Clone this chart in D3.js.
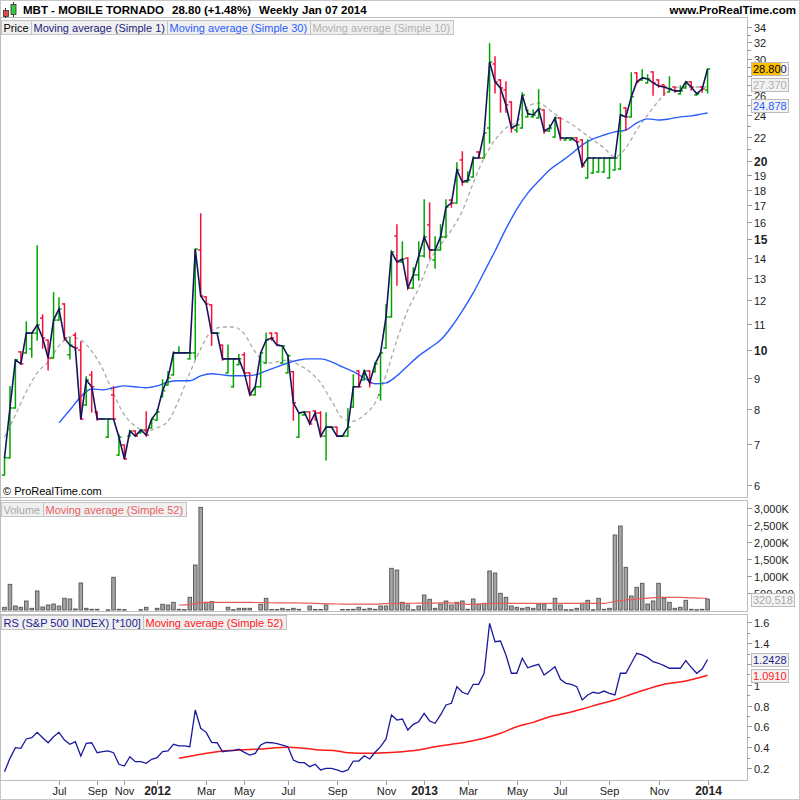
<!DOCTYPE html>
<html><head><meta charset="utf-8">
<script src="https://cdn.jsdelivr.net/npm/d3@7"></script>
<style>body{margin:0;background:#fff}svg{display:block;font-family:"Liberation Sans",Arial,sans-serif}</style>
</head><body><svg id="c" width="800" height="800"></svg>
<script>
// ---------- DATA (weekly bars, index 0..129) ----------
const opens = [
6.23,6.65,8.03,9.93,9.89,10.04,10.64,11.24,10.37,9.70,
11.16,11.84,9.82,10.56,10.00,8.12,9.10,7.91,7.70,7.19,
8.44,6.72,6.98,7.22,7.36,7.31,7.39,7.45,7.67,8.38,
8.76,9.10,9.89,9.89,9.67,9.89,14.43,12.15,11.80,10.64,
10.18,9.17,8.70,9.46,9.82,9.17,8.44,8.70,9.52,10.64,
10.64,9.52,9.17,9.21,7.19,7.82,7.91,7.94,7.88,7.22,
7.47,7.47,7.22,7.22,8.06,9.24,8.93,9.24,9.21,8.44,
10.07,11.29,15.19,13.81,14.01,12.55,13.17,14.12,15.82,13.91,
14.43,15.14,17.33,17.14,20.08,18.52,18.86,20.73,20.24,22.79,
29.37,27.57,26.50,25.27,22.61,22.79,23.82,23.82,23.72,24.48,
22.52,21.99,23.72,21.74,21.74,21.91,21.74,18.79,19.14,19.21,
19.21,18.79,19.35,19.42,24.68,23.82,28.35,27.57,27.25,28.46,
27.57,27.04,26.29,26.81,26.09,26.71,27.36,25.98,26.81,26.50];
const highs = [
6.65,8.70,9.63,9.93,11.08,10.64,14.65,11.37,10.37,12.33,
12.10,11.84,10.45,10.64,10.30,9.03,9.21,7.91,7.70,7.70,
8.70,7.25,6.98,7.36,7.36,7.39,7.91,7.70,7.97,8.93,
9.21,9.93,10.11,9.89,9.89,14.48,16.47,12.15,11.80,10.64,
10.18,10.18,9.67,9.82,9.89,9.17,8.70,9.89,10.64,10.64,
10.64,10.15,9.82,9.21,7.88,7.91,7.91,7.94,7.91,7.88,
7.47,7.47,7.22,8.00,9.10,9.24,9.24,9.24,9.53,9.89,
11.80,14.33,15.82,14.86,14.01,13.51,14.86,17.33,17.14,15.14,
15.82,17.33,17.33,19.86,20.73,19.21,20.32,20.73,22.35,31.80,
30.20,27.57,27.36,25.27,23.07,26.19,24.48,24.48,26.50,24.48,
23.07,23.72,23.72,21.91,21.91,21.91,21.74,21.74,20.24,20.24,
20.24,20.24,20.24,25.07,24.68,28.35,28.35,28.68,28.12,28.46,
27.57,27.04,27.90,26.81,26.91,27.36,27.36,26.19,26.81,28.80];
const lows = [
6.23,6.65,8.03,9.49,9.89,9.74,10.37,10.07,9.28,9.70,
11.16,10.37,9.67,10.00,7.70,8.12,7.91,7.67,7.70,7.19,
7.70,6.72,6.62,7.22,7.22,7.31,7.22,7.45,7.67,8.38,
8.76,9.10,9.89,9.89,9.67,9.67,12.19,11.84,10.18,10.64,
9.63,9.17,8.70,9.46,9.17,8.44,8.44,8.70,9.52,10.37,
10.18,9.52,9.17,7.67,7.19,7.82,7.56,7.67,7.22,6.60,
7.47,7.22,7.22,7.22,8.06,8.70,8.93,8.70,9.21,8.28,
10.07,11.29,12.69,13.81,12.55,12.55,12.93,14.07,14.01,13.51,
14.43,15.14,16.89,17.14,18.31,18.52,18.86,20.24,20.24,21.49,
26.19,24.29,24.29,22.44,22.44,22.79,23.82,23.82,23.72,22.35,
22.52,21.99,21.74,21.74,21.74,21.57,19.57,18.79,19.14,19.21,
19.21,18.79,19.35,19.42,22.61,23.82,27.25,27.57,27.25,25.98,
26.81,25.98,26.29,26.29,26.09,26.71,26.50,25.98,26.29,26.19];
const closes = [
6.65,8.03,9.63,9.49,10.64,10.64,10.96,10.45,9.70,11.16,
11.62,10.45,10.18,10.07,7.70,8.93,8.70,7.70,7.70,7.70,
7.70,7.19,6.62,7.36,7.22,7.39,7.25,7.70,7.91,8.57,
9.00,9.89,9.89,9.89,9.89,14.48,12.19,11.84,10.64,10.64,
9.67,9.67,9.67,9.67,9.17,8.44,8.70,9.89,10.37,10.45,
10.18,10.15,9.78,8.19,7.88,7.91,7.56,7.88,7.22,7.47,
7.47,7.22,7.22,7.47,8.70,8.70,9.24,8.83,9.49,9.89,
11.29,14.33,13.81,13.96,12.55,13.17,14.12,15.14,14.43,14.43,
15.14,16.89,17.14,19.35,18.52,18.65,20.24,20.24,22.35,29.60,
27.36,26.71,24.97,22.79,23.07,25.98,24.10,24.00,24.58,22.52,
22.79,23.72,21.91,21.91,21.91,21.57,19.64,20.24,20.24,20.24,
20.24,20.24,20.24,24.00,23.82,25.78,27.36,27.79,27.68,27.25,
26.91,26.81,26.60,26.40,26.40,27.36,26.81,26.09,26.60,28.80];
// volume in thousands of shares
const volumes = [
80,755,118,80,265,50,560,88,147,176,
118,344,324,30,794,50,20,20,0,5,
962,20,10,0,0,10,80,0,50,168,
147,226,20,10,374,1324,3020,226,244,0,
0,80,10,50,50,50,0,168,344,15,
15,50,15,50,20,0,118,15,15,147,
0,0,15,15,20,80,20,50,20,118,
118,1226,1176,226,147,10,118,441,315,50,
176,265,147,226,265,20,324,176,197,1147,
1088,491,374,118,80,50,80,50,176,176,
20,344,147,10,10,50,197,285,10,344,
20,50,2206,2470,1256,412,668,785,176,265,
785,344,226,50,80,285,20,10,20,320.518];
// relative strength vs S&P 500 (*100)
const rs = [
0.163,0.292,0.394,0.388,0.478,0.490,0.542,0.490,0.442,0.500,
0.542,0.468,0.427,0.452,0.314,0.437,0.442,0.346,0.356,0.363,
0.346,0.235,0.218,0.308,0.260,0.260,0.244,0.283,0.298,0.356,
0.363,0.427,0.411,0.411,0.404,0.757,0.581,0.542,0.446,0.442,
0.356,0.363,0.367,0.379,0.350,0.324,0.340,0.420,0.446,0.442,
0.433,0.420,0.404,0.276,0.250,0.250,0.212,0.235,0.180,0.196,
0.196,0.180,0.163,0.180,0.266,0.266,0.317,0.286,0.350,0.404,
0.478,0.709,0.660,0.670,0.564,0.619,0.644,0.725,0.651,0.629,
0.709,0.805,0.821,0.981,0.927,0.908,1.004,1.004,1.110,1.590,
1.413,1.420,1.286,1.110,1.110,1.254,1.163,1.180,1.196,1.093,
1.132,1.173,1.052,1.013,1.004,0.981,0.853,0.901,0.927,0.917,
0.939,0.917,0.901,1.110,1.110,1.206,1.302,1.286,1.260,1.221,
1.206,1.183,1.158,1.158,1.158,1.231,1.167,1.110,1.151,1.2428];
// moving averages: [bar index, value]
const ma30 = [[10,7.59],[12,7.97],[14,8.38],[16,8.63],[18,8.60],[20,8.67],[22,8.73],[24,8.70],[26,8.67],[28,8.73],[30,8.86],[32,8.90],[34,8.90],[36,9.07],[38,9.14],[40,9.10],[42,9.07],[44,9.07],[46,9.10],[48,9.24],[50,9.38],[52,9.52],[54,9.63],[56,9.67],[58,9.67],[60,9.56],[62,9.38],[64,9.21],[66,9.00],[68,8.80],[70,8.83],[72,9.07],[74,9.42],[76,9.78],[78,10.07],[80,10.37],[82,10.88],[84,11.54],[86,12.33],[88,13.31],[90,14.38],[92,15.59],[94,16.77],[96,17.78],[98,18.58],[100,19.35],[102,19.93],[104,20.56],[106,21.32],[108,21.83],[110,22.17],[112,22.44],[114,22.61],[116,23.25],[118,23.63],[120,23.53],[122,23.63],[124,23.82],[126,23.91],[128,24.10],[129,24.19]];
const ma10 = [[0,7.19],[2,7.82],[4,8.54],[6,9.17],[8,9.56],[10,10.15],[12,10.49],[14,10.37],[16,9.96],[18,9.31],[20,8.47],[22,7.82],[24,7.50],[26,7.36],[28,7.45],[30,7.64],[32,8.28],[34,9.17],[36,10.04],[38,10.72],[40,10.88],[42,10.88],[44,10.60],[46,9.93],[48,9.52],[50,9.56],[52,9.63],[54,9.45],[56,9.21],[58,8.83],[60,8.25],[62,7.73],[64,7.64],[66,7.82],[68,8.19],[70,9.10],[72,10.37],[74,11.58],[76,12.55],[78,13.86],[80,14.70],[82,15.53],[84,16.65],[86,18.45],[88,20.24],[90,21.74],[92,22.79],[94,23.35],[96,24.78],[98,25.17],[100,24.48],[102,23.72],[104,23.16],[106,22.44],[108,21.74],[110,21.06],[112,20.32],[114,21.06],[116,22.61],[118,24.00],[120,25.37],[122,26.50],[124,26.81],[126,26.81],[128,26.81],[129,26.81]];
const volMa52 = [[32,147],[34,160],[36,215],[38,226],[40,226],[42,226],[44,226],[46,220],[48,215],[50,210],[52,210],[54,206],[56,200],[58,190],[60,180],[62,175],[64,170],[66,170],[68,175],[70,190],[72,197],[74,197],[76,200],[78,200],[80,210],[82,212],[84,180],[86,165],[88,185],[90,195],[92,197],[94,197],[96,197],[98,197],[100,197],[102,197],[104,197],[106,197],[108,197],[110,197],[112,250],[114,300],[116,320],[118,350],[120,374],[122,374],[124,370],[126,355],[128,345],[129,344]];
const rsMa52 = [[32,0.292],[36,0.331],[40,0.363],[43,0.372],[47,0.382],[52,0.398],[54,0.394],[58,0.372],[61,0.363],[63,0.346],[67,0.340],[70,0.346],[73,0.356],[76,0.372],[79,0.404],[82,0.427],[85,0.452],[88,0.485],[91,0.533],[94,0.596],[97,0.638],[100,0.692],[103,0.725],[106,0.766],[109,0.812],[112,0.853],[115,0.908],[118,0.959],[121,1.004],[125,1.036],[129,1.091]];
// axis ticks and labels
const monthTickBars = [10,17,22,28,37,44,52,61,70,77,85,94,102,111,120,129];
const monthTickLabels = ["Jul","Sep","Nov","2012","Mar","May","Jul","Sep","Nov","2013","Mar","May","Jul","Sep","Nov","2014"];
const priceTicks = [6,7,8,9,10,11,12,13,14,15,16,17,18,19,20,22,24,26,28,30,32,34];
const priceBoldTicks = [10,15,20];
const priceHiddenLabels = [28];      // covered by the last-value boxes in the original
const priceMinorTicks = [21,23,25,27,29,31,33];
const volTicks = [500,1000,1500,2000,2500,3000];
const volTickLabels = ["500,000","1,000K","1,500K","2,000K","2,500K","3,000K"];
const rsTicks = [0.2,0.4,0.6,0.8,1,1.2,1.4,1.6];
const rsHiddenLabels = [1.2];        // covered by the last-value boxes in the original
const rsMinorTicks = [0.3,0.5,0.7,0.9,1.1,1.3,1.5];
const lastLabels = {price:"28.80", ma1:"28.800", ma10:"27.370", ma30:"24.878", ma10v:27.37, ma30v:24.878, vol:"320,518", rs:"1.2428", rsMa:"1.0910", rsMaV:1.091};

// ---------- CHART ----------
const svg = d3.select("#c");
const PR = 747; // right edge of plot panels
const x = d3.scaleLinear().domain([0,129]).range([4.5,707.6]);
const yP = d3.scaleLog().domain([6,10,20,34]).range([485,350,161,27]);
const yV = d3.scaleLinear().domain([0,3000]).range([610,508]);
const yR = d3.scaleLinear().domain([0.2,1.6]).range([767.9,622.3]);
const GREEN="#00a400", RED="#f5103c";

svg.append("rect").attr("x",0.5).attr("y",0.5).attr("width",799).attr("height",799).attr("fill","none").attr("stroke","#c8c8c8");
function panel(y0,y1){
  svg.append("rect").attr("x",0.5).attr("y",y0+0.5).attr("width",PR).attr("height",y1-y0).attr("fill","#fff").attr("stroke","#bdbdbd");
}
panel(17,497); panel(500,611); panel(614,780);
const defs = svg.append("defs");
[["cp",18,479],["cv",501,110],["cr",615,165]].forEach(([id,y0,h])=>{
  defs.append("clipPath").attr("id",id).append("rect").attr("x",1).attr("y",y0).attr("width",PR-1).attr("height",h);
});

// header
const hdr = svg.append("g");
hdr.append("line").attr("x1",5.5).attr("x2",5.5).attr("y1",8).attr("y2",18).attr("stroke","#333");
hdr.append("rect").attr("x",3.5).attr("y",10.5).attr("width",5).attr("height",6).attr("fill","#e04848").attr("stroke","#333").attr("stroke-width",0.8);
hdr.append("line").attr("x1",13.5).attr("x2",13.5).attr("y1",2).attr("y2",17).attr("stroke","#333");
hdr.append("rect").attr("x",11).attr("y",4.5).attr("width",5).attr("height",10).attr("fill","#3cc83c").attr("stroke","#333").attr("stroke-width",0.8);
[["MBT - MOBILE TORNADO",23],["28.80 (+1.48%)",172],["Weekly",259],["Jan 07 2014",302]].forEach(([t,xx])=>{
  hdr.append("text").attr("x",xx).attr("y",14).attr("font-size",11.5).attr("font-weight","bold").attr("fill","#000").text(t);
});
hdr.append("text").attr("x",796).attr("y",14).attr("text-anchor","end").attr("font-size",11.5).attr("font-weight","bold").text("www.ProRealTime.com");

function legend(y0, items){
  let xx=1;
  items.forEach(it=>{
    const r=svg.append("rect").attr("y",y0+0.5).attr("height",14).attr("fill","#f0f0f0").attr("stroke","#c4c4c4");
    const t=svg.append("text").attr("x",xx+2.5).attr("y",y0+11.5).attr("font-size",11).attr("fill",it.c).text(it.t);
    const w=Math.round(t.node().getComputedTextLength()+5);
    r.attr("x",xx+0.5).attr("width",w);
    xx+=w;
  });
}

// ---- price panel ----
const gp = svg.append("g").attr("clip-path","url(#cp)");
const lineMA = d3.line().x(d=>x(d[0])).y(d=>yP(d[1])).curve(d3.curveMonotoneX);
gp.append("path").attr("d",lineMA(ma10)).attr("fill","none").attr("stroke","#aaaaaa").attr("stroke-width",1.3).attr("stroke-dasharray","4,3");
gp.append("path").attr("d",lineMA(ma30)).attr("fill","none").attr("stroke","#2a5cff").attr("stroke-width",1.4);
closes.forEach((c,i)=>{
  const col = c>=opens[i]?GREEN:RED, xi=x(i);
  const g=gp.append("g").attr("stroke",col).attr("stroke-width",1.5);
  g.append("line").attr("x1",xi).attr("x2",xi).attr("y1",yP(highs[i])-0.7).attr("y2",yP(lows[i])+0.7);
  g.append("line").attr("x1",xi-2.6).attr("x2",xi).attr("y1",yP(opens[i])).attr("y2",yP(opens[i]));
  g.append("line").attr("x1",xi).attr("x2",xi+2.6).attr("y1",yP(c)).attr("y2",yP(c));
});
gp.append("path").attr("d",d3.line().x((d,i)=>x(i)).y(d=>yP(d))(closes)).attr("fill","none").attr("stroke","#15155c").attr("stroke-width",1.6);
svg.append("text").attr("x",3).attr("y",495).attr("font-size",11).attr("fill","#000").text("© ProRealTime.com");
legend(20,[{t:"Price",c:"#000"},{t:"Moving average (Simple 1)",c:"#1c1c7c"},{t:"Moving average (Simple 30)",c:"#2a5cff"},{t:"Moving average (Simple 10)",c:"#b0b0b0"}]);

// price axis
priceMinorTicks.forEach(v=>svg.append("line").attr("x1",PR).attr("x2",PR+4).attr("y1",Math.round(yP(v))+0.5).attr("y2",Math.round(yP(v))+0.5).attr("stroke","#999"));
priceTicks.forEach(v=>{
  const yy=Math.round(yP(v))+0.5, b=priceBoldTicks.includes(v);
  svg.append("line").attr("x1",PR).attr("x2",PR+5).attr("y1",yy).attr("y2",yy).attr("stroke","#999");
  if(priceHiddenLabels.includes(v)) return;
  svg.append("text").attr("x",754).attr("y",yy+4).attr("font-size",b?12:11).attr("font-weight",b?"bold":"normal").attr("fill","#222").text(v);
});
function valBoxAt(yy, text, color, bg){
  const r=svg.append("rect").attr("x",751.5).attr("y",Math.round(yy-6.5)+0.5).attr("height",13).attr("fill",bg).attr("stroke","#bbb");
  const t=svg.append("text").attr("x",753).attr("y",Math.round(yy-6.5)+11).attr("font-size",11).attr("fill",color).text(text);
  r.attr("width",Math.round(t.node().getComputedTextLength()+3));
}
// last-value boxes stacked so they do not overlap (as in the original)
const yClose = yP(closes[129]);
const yMa10 = Math.max(yP(lastLabels.ma10v), yClose+16);
const yMa30 = Math.max(yP(lastLabels.ma30v), yMa10+16);
valBoxAt(yMa30,lastLabels.ma30,"#2a5cff","#f2f2f2");
valBoxAt(yMa10,lastLabels.ma10,"#b0b0b0","#f2f2f2");
valBoxAt(yClose,lastLabels.ma1,"#1c1c7c","#f2f2f2");
(function(){
  const r=svg.append("rect").attr("x",752).attr("y",Math.round(yClose-6.5)+1).attr("height",12).attr("fill","#ffc000");
  const t=svg.append("text").attr("x",753).attr("y",Math.round(yClose-6.5)+11).attr("font-size",11).attr("fill","#000").text(lastLabels.price);
  r.attr("width",Math.round(t.node().getComputedTextLength()+1.5));
})();

// ---- volume panel ----
const gv = svg.append("g").attr("clip-path","url(#cv)");
volumes.forEach((v,i)=>{
  if(v<=0) return;
  gv.append("rect").attr("x",x(i)-1.8).attr("y",yV(v)).attr("width",3.6).attr("height",Math.max(0.5,yV(0)-yV(v)))
    .attr("fill","#a4a4a4").attr("stroke","#555").attr("stroke-width",0.9);
});
gv.append("path").attr("d",d3.line().x(d=>x(d[0])).y(d=>yV(d[1])).curve(d3.curveMonotoneX)(volMa52)).attr("fill","none").attr("stroke","#e85c5c").attr("stroke-width",1.2);
legend(502,[{t:"Volume",c:"#a8a8a8"},{t:"Moving average (Simple 52)",c:"#e86060"}]);
volTicks.forEach((v,k)=>{
  const yy=Math.round(yV(v))+0.5;
  svg.append("line").attr("x1",PR).attr("x2",PR+5).attr("y1",yy).attr("y2",yy).attr("stroke","#999");
  svg.append("text").attr("x",754).attr("y",yy+4).attr("font-size",11).attr("fill","#222").text(volTickLabels[k]);
});
valBoxAt(yV(volumes[129]),lastLabels.vol,"#a8a8a8","#f4f4f4");

// ---- RS panel ----
const gr = svg.append("g").attr("clip-path","url(#cr)");
gr.append("path").attr("d",d3.line().x(d=>x(d[0])).y(d=>yR(d[1])).curve(d3.curveMonotoneX)(rsMa52)).attr("fill","none").attr("stroke","#ff1a1a").attr("stroke-width",1.5);
gr.append("path").attr("d",d3.line().x((d,i)=>x(i)).y(d=>yR(d))(rs)).attr("fill","none").attr("stroke","#1a1a9c").attr("stroke-width",1.3);
legend(615,[{t:"RS (S&P 500 INDEX) [*100]",c:"#1c1c8c"},{t:"Moving average (Simple 52)",c:"#ff2020"}]);
rsMinorTicks.forEach(v=>svg.append("line").attr("x1",PR).attr("x2",PR+3).attr("y1",Math.round(yR(v))+0.5).attr("y2",Math.round(yR(v))+0.5).attr("stroke","#999"));
rsTicks.forEach(v=>{
  const yy=Math.round(yR(v))+0.5;
  svg.append("line").attr("x1",PR).attr("x2",PR+5).attr("y1",yy).attr("y2",yy).attr("stroke","#999");
  if(rsHiddenLabels.includes(v)) return;
  svg.append("text").attr("x",754).attr("y",yy+4).attr("font-size",11).attr("fill","#222").text(v);
});
const yRs = yR(rs[129]);
const yRsMa = Math.max(yR(lastLabels.rsMaV), yRs+14);
valBoxAt(yRs,lastLabels.rs,"#1c1c8c","#f2f2f2");
valBoxAt(yRsMa,lastLabels.rsMa,"#ff1a1a","#f2f2f2");

// ---- x axis ----
monthTickBars.forEach((b,k)=>{
  const xx=Math.round(x(b))+0.5, yr=/^\d{4}$/.test(monthTickLabels[k]);
  svg.append("line").attr("x1",xx).attr("x2",xx).attr("y1",781).attr("y2",785).attr("stroke","#999");
  svg.append("text").attr("x",xx).attr("y",795).attr("text-anchor","middle").attr("font-size",yr?12:11)
    .attr("font-weight",yr?"bold":"normal").attr("fill","#222").text(monthTickLabels[k]);
});
</script></body></html>
